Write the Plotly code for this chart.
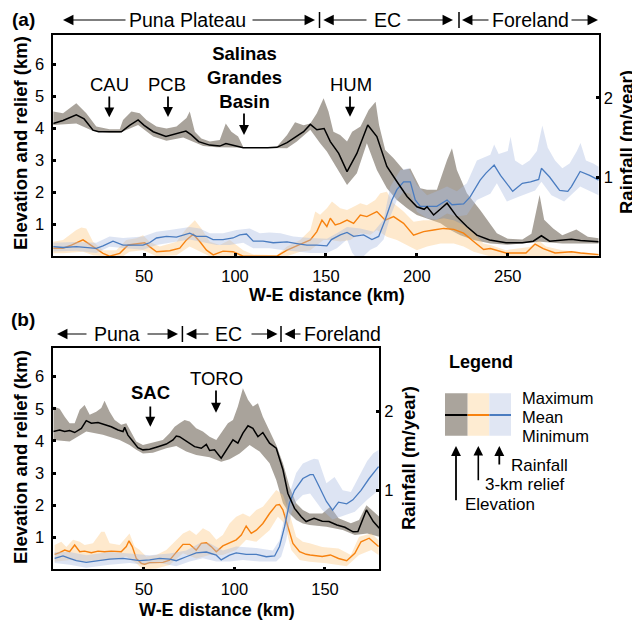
import plotly.graph_objects as go

# The page body has an 8px margin, so the figure is drawn 8px in from the window corner.
OFF = 8
FW, FH = 632, 614
FONT = "Liberation Sans, Arial, Helvetica, sans-serif"

# ---------------- Panel (a) data: W-E distance (km) ----------------
a_elev_mean_x = [0, 5.4, 12.7, 17, 21.9, 25, 30, 37.5, 42, 46.7, 50, 55, 62, 68, 73, 76, 80, 86, 91.6, 95,
                 100.8, 104.5, 118, 123, 128.6, 134, 137.7, 141.4, 145, 149, 152.4, 157, 161.6, 167, 173, 178,
                 183.5, 189, 194.6, 200, 204, 205.6, 209.2, 213, 216.6, 222, 227.5, 233, 240, 249, 258, 264,
                 268.5, 273, 285, 290, 300]
a_elev_mean = [4.16, 4.25, 4.43, 4.3, 3.95, 3.9, 3.9, 3.9, 4.1, 4.27, 4.1, 3.9, 3.75, 3.85, 3.92, 3.8, 3.59, 3.48,
               3.45, 3.53, 3.45, 3.40, 3.40, 3.41, 3.56, 3.77, 3.9, 4.13, 3.96, 4.0, 3.59, 3.22, 2.65, 3.22, 4.11,
               3.75, 2.81, 2.34, 1.87, 1.55, 1.47, 1.55, 1.29, 1.48, 1.66, 1.24, 0.93, 0.66, 0.51, 0.42, 0.42, 0.47,
               0.64, 0.47, 0.53, 0.49, 0.45]

a_elev_max_x = [0, 5.4, 12.7, 18.2, 23.7, 31, 36.6, 38.4, 43, 47.6, 51.3, 56.8, 62.3, 67.8, 73.3, 75.1, 77.9, 81.5,
                86.1, 91.6, 94.9, 98, 101.7, 104.5, 118, 123, 128.6, 133, 137.7, 141.4, 145, 148.7, 151.4, 154.1,
                157.8, 161.6, 164.4, 169, 173.5, 177.3, 179.2, 182.6, 187.2, 192.7, 196.4, 201.9, 205.6, 211, 216.6,
                219.3, 222, 227.5, 234.8, 240.4, 244, 250, 258, 263, 265, 267.5, 270, 275, 280, 287.7, 294, 300]
a_elev_max = [4.53, 4.48, 4.79, 4.48, 4.06, 3.98, 3.98, 4.27, 4.53, 4.48, 4.27, 4.06, 4.0, 4.06, 4.33, 4.53, 3.9,
              3.69, 3.59, 3.64, 4.16, 3.9, 3.75, 3.42, 3.42, 3.43, 3.8, 4.2, 4.1, 4.16, 4.48, 4.95, 4.53, 3.9, 3.8,
              3.59, 3.9, 4.06, 4.58, 4.84, 4.11, 3.33, 3.07, 2.7, 2.75, 2.13, 2.08, 2.08, 3.01, 3.38, 2.7, 1.97,
              1.45, 1.0, 0.72, 0.55, 0.52, 0.7, 1.24, 1.92, 1.14, 0.87, 0.66, 0.84, 0.61, 0.56]

a_elev_min_x = [0, 12.7, 21.9, 31, 36.6, 46.7, 55, 62.3, 71.5, 77, 82.5, 89.8, 97.1, 104.5, 118, 128.6, 134, 141.4,
                146.8, 150.5, 155.7, 161.6, 167, 172.5, 178, 183.5, 189, 194.6, 200, 205.6, 213, 218.4, 223.9,
                231.2, 240.4, 250, 268, 280, 300]
a_elev_min = [4.11, 4.16, 3.92, 3.87, 3.87, 4.11, 3.75, 3.62, 3.72, 3.59, 3.45, 3.41, 3.41, 3.39, 3.39, 3.38, 3.59,
              3.96, 3.54, 3.28, 2.81, 2.23, 2.6, 3.54, 2.7, 2.13, 1.76, 1.5, 1.29, 1.19, 1.03, 0.82, 0.66, 0.51,
              0.40, 0.36, 0.45, 0.40, 0.40]

a_relief_mean_x = [0, 5.4, 10, 16.4, 21.9, 27.4, 31, 36.6, 41.2, 46.7, 50.3, 53, 56.8, 64.1, 69.6, 73.3, 77, 80.6,
                   84.3, 88, 93.4, 98.9, 104.5, 123, 128.6, 135.8, 141.4, 145, 147.8, 150.5, 152.4, 155.1, 157.9,
                   161.6, 165.2, 168.9, 172.5, 178, 182.6, 187.2, 192.7, 198.2, 203.7, 209.2, 214.8, 220.3, 225.7,
                   231.2, 236.7, 240.4, 249, 260, 265, 269.5, 276, 285, 290, 300]
a_relief_mean = [0.25, 0.25, 0.35, 0.51, 0.3, 0.09, 0.0, 0.09, 0.35, 0.4, 0.42, 0.3, 0.14, 0.17, 0.25, 0.51, 0.69,
                 0.46, 0.19, 0.04, 0.16, 0.14, 0.0, 0.0, 0.19, 0.37, 0.51, 0.77, 1.13, 0.93, 1.19, 0.98, 1.03, 1.13,
                 1.03, 1.29, 1.24, 1.40, 1.13, 1.24, 1.03, 0.66, 0.77, 0.82, 0.87, 0.84, 0.72, 0.46, 0.21, 0.24, 0.1,
                 0.1, 0.38, 0.24, 0.1, 0.14, 0.1, 0.05]

a_relief_max_x = [0, 5.4, 12.7, 15.5, 18.2, 21.9, 27.4, 34.7, 40.2, 45.8, 49.4, 53, 58.6, 67.8, 73.3, 77.9, 81.5,
                  86.1, 91.6, 97.1, 104.5, 110, 123, 128.6, 135.8, 141.4, 144.1, 146.8, 150.5, 153.3, 157.9, 161.6,
                  165.2, 168.9, 172.5, 177.1, 179.9, 183.5, 187.2, 192.7, 198.2, 203.7, 209.2, 214.8, 220.3, 225.7,
                  231.2, 236.7, 240.4, 249, 262, 267, 271, 280, 300]
a_relief_max = [0.45, 0.51, 0.82, 0.9, 0.87, 0.45, 0.19, 0.19, 0.51, 0.56, 0.66, 0.45, 0.3, 0.45, 0.87, 1.13, 0.87,
                0.45, 0.35, 0.51, 0.19, 0.05, 0.03, 0.3, 0.51, 0.82, 1.4, 1.3, 1.5, 1.71, 1.5, 1.45, 1.55, 1.66, 1.6,
                1.76, 1.97, 2.02, 1.66, 1.4, 1.08, 1.13, 1.13, 1.19, 1.13, 0.98, 0.72, 0.4, 0.35, 0.19, 0.29, 0.5,
                0.3, 0.19, 0.08]

a_relief_min_x = [0, 5.4, 16.4, 21.9, 27.4, 38.4, 42, 49.4, 56.8, 67.8, 75, 80.6, 86, 128.6, 135.8, 141.4, 145,
                  148.7, 152.4, 157.9, 163.4, 168.9, 174.4, 178, 183.5, 189, 194.6, 200, 205.6, 213, 220.3, 225.7,
                  231.2, 240, 300]
a_relief_min = [0.09, 0.09, 0.14, 0.03, 0, 0, 0.14, 0.19, 0, 0.03, 0.3, 0.14, 0, 0, 0.14, 0.19, 0.35, 0.51, 0.51,
                0.46, 0.51, 0.72, 0.67, 0.82, 0.61, 0.51, 0.35, 0.19, 0.3, 0.4, 0.4, 0.3, 0.14, 0, 0]

# rainfall (m/year)
a_rain_mean_x = [0, 5.4, 12.7, 18.2, 23.7, 27.4, 32.9, 38.4, 43.9, 49.4, 53, 56.8, 62.3, 67.8, 75.1, 78.8, 84.3,
                 87.9, 93.4, 98.9, 102.6, 106.3, 110, 115.4, 121, 128.6, 134, 139.5, 145, 150.5, 153, 157.9, 161.6,
                 165.2, 170.7, 175.3, 179, 182.6, 186.3, 189, 192.7, 196.4, 199.1, 201.9, 207.4, 211, 216.6, 219.3,
                 225.7, 229.3, 234.8, 238, 242.5, 246, 252.7, 258, 262.5, 267, 268.5, 273, 278.5, 283, 285, 289.8,
                 295, 300]
a_rain_mean = [0.12, 0.11, 0.12, 0.11, 0.10, 0.13, 0.19, 0.14, 0.14, 0.14, 0.17, 0.23, 0.25, 0.24, 0.29, 0.25, 0.25,
               0.21, 0.21, 0.23, 0.27, 0.28, 0.19, 0.19, 0.17, 0.18, 0.16, 0.14, 0.14, 0.13, 0.21, 0.27, 0.30, 0.25,
               0.27, 0.21, 0.25, 0.46, 0.71, 0.84, 0.94, 0.94, 0.71, 0.63, 0.63, 0.63, 0.71, 0.65, 0.66, 0.75, 0.96,
               1.05, 1.15, 1.02, 0.82, 0.92, 0.94, 0.97, 1.11, 1.00, 0.83, 0.82, 0.88, 1.07, 1.02, 0.96]

a_rain_max_x = [0, 12.7, 23.7, 31, 38.4, 49.4, 56.8, 64.1, 75.1, 80.6, 86.1, 93.4, 100.8, 108.1, 113.6, 119, 125,
                132, 141.4, 150.5, 156, 161.6, 168.9, 176.2, 181.7, 185.4, 190.9, 195.5, 200, 205.6, 211, 216.6, 222,
                227.5, 233, 240.4, 242.5, 245, 250, 251.5, 254, 258, 262, 266, 269, 272, 276, 280, 284, 288, 290,
                293, 297, 300]
a_rain_max = [0.17, 0.18, 0.17, 0.25, 0.23, 0.25, 0.31, 0.33, 0.37, 0.35, 0.29, 0.29, 0.33, 0.35, 0.29, 0.30, 0.29,
              0.25, 0.23, 0.22, 0.29, 0.37, 0.35, 0.31, 0.46, 0.88, 1.09, 1.11, 0.90, 0.77, 0.82, 0.88, 0.82, 0.92,
              1.21, 1.28, 1.41, 1.29, 1.33, 1.51, 1.21, 1.15, 1.21, 1.33, 1.65, 1.37, 1.21, 1.11, 1.17, 1.33, 1.43,
              1.21, 1.17, 1.13]

a_rain_min_x = [0, 12.7, 23.7, 31, 40, 49.4, 56.8, 64.1, 75.1, 82.5, 89.8, 97, 104.5, 110, 119, 125, 132, 141.4,
                150.5, 156, 161.6, 164.5, 166, 170.7, 174.4, 178, 181.7, 185.4, 189, 192.7, 196.4, 200, 205.6, 211,
                216.6, 222, 227.5, 233, 240.4, 244, 249.5, 256, 265, 268.5, 274, 281, 289.8, 300]
a_rain_min = [0.06, 0.07, 0.04, 0.12, 0.10, 0.08, 0.14, 0.17, 0.21, 0.17, 0.14, 0.14, 0.17, 0.10, 0.10, 0.08, 0.06,
              0.04, 0.04, 0.10, 0.21, 0.04, 0, 0, 0.08, 0.12, 0.21, 0.50, 0.71, 0.81, 0.79, 0.56, 0.48, 0.46, 0.54,
              0.50, 0.52, 0.71, 0.79, 0.92, 0.69, 0.75, 0.83, 0.94, 0.77, 0.69, 0.88, 0.77]

# ---------------- Panel (b) data ----------------
b_elev_mean_x = [0, 3.5, 6.3, 9, 11.8, 15.5, 18.2, 21, 24.7, 28.3, 32, 35.7, 38.5, 39.4, 41.2, 44, 46.7, 49.5, 53.2,
                 57.8, 62.4, 66.1, 67.9, 69.7, 73.4, 78, 81.7, 84.5, 86.3, 89, 92.7, 95.5, 99.2, 101.9, 104.7, 107.5,
                 110.2, 113, 115.7, 119.4, 123.1, 126.8, 129.5, 133.2, 136.9, 139.6, 144, 148.5, 152.2, 156.6, 161,
                 165.5, 168.2, 172.9, 176.7, 180]
b_elev_mean = [4.29, 4.34, 4.29, 4.32, 4.26, 4.39, 4.63, 4.55, 4.57, 4.5, 4.44, 4.34, 4.29, 4.42, 4.18, 3.98, 3.79,
               3.72, 3.74, 3.82, 3.9, 4.03, 4.15, 4.13, 3.98, 3.82, 3.77, 3.89, 3.70, 3.72, 3.46, 3.72, 4.03, 3.93,
               4.24, 4.47, 4.39, 4.13, 4.26, 3.93, 3.77, 3.1, 2.37, 1.9, 1.64, 1.49, 1.59, 1.5, 1.49, 1.38, 1.31,
               1.17, 1.18, 1.85, 1.49, 1.28]

b_elev_max_x = [0, 3.5, 6.3, 9, 11.8, 14.6, 17.3, 20.1, 23.7, 26.5, 28.3, 31.1, 33.9, 37.5, 40.3, 43.1, 45.8, 49.5,
                53.2, 56.9, 60.5, 64.2, 67, 69.7, 72.5, 75.3, 78.9, 82.6, 86.3, 90, 93.6, 96.4, 99.2, 101.9, 104.7,
                107.5, 110.2, 113, 115.7, 119.4, 123.1, 126.8, 130.4, 134.1, 137.8, 141.5, 148.5, 153, 157.5, 164.3,
                168.8, 172.9, 176.7, 180]
b_elev_max = [5.07, 5.0, 4.75, 4.55, 4.55, 4.97, 5.12, 4.81, 4.91, 5.02, 5.25, 4.91, 4.65, 4.5, 4.55, 4.24, 3.98,
              3.87, 3.93, 3.98, 4.03, 4.24, 4.44, 4.55, 4.65, 4.6, 4.39, 4.29, 4.13, 4.03, 4.34, 4.55, 4.65, 5.07,
              5.64, 5.28, 5.07, 5.17, 4.75, 4.29, 3.87, 3.3, 2.58, 2.06, 1.85, 1.74, 1.74, 1.95, 1.59, 1.44, 1.54,
              2.0, 1.8, 1.64]

b_elev_min_x = [0, 9, 18.2, 27.4, 36.6, 42.1, 45.8, 49.5, 55, 62.4, 67.9, 73.4, 78.9, 86.3, 92.7, 97.3, 102.9, 108.4,
                113.9, 119.4, 123.1, 126.8, 130.4, 134.1, 137.8, 141.5, 150.8, 159.8, 166.5, 173.3, 180]
b_elev_min = [4.03, 3.98, 4.29, 4.19, 4.03, 3.87, 3.72, 3.61, 3.63, 3.77, 3.84, 3.67, 3.56, 3.49, 3.35, 3.43, 3.61,
              3.87, 3.67, 3.3, 2.78, 2.06, 1.74, 1.54, 1.43, 1.38, 1.33, 1.23, 1.07, 1.12, 1.02]

b_relief_mean_x = [0.75, 3.5, 6.3, 9, 11.8, 14.6, 17.3, 21, 24.7, 28.3, 32, 34.8, 37.5, 40.3, 41.8, 43.6, 45.8, 48.6,
                   50.4, 53.2, 56.9, 60.5, 64.2, 67.9, 71.6, 75.3, 78.9, 81.7, 84.5, 87.2, 90, 93.6, 97.3, 101, 103.8,
                   106.5, 109.3, 112.1, 115.7, 119.4, 123.1, 124.9, 126.8, 129.5, 132.3, 136, 139.6, 141.8, 148.5,
                   153, 157.5, 162, 166.5, 169.9, 174.4, 179.6]
b_relief_mean = [0.47, 0.52, 0.6, 0.55, 0.76, 0.55, 0.57, 0.52, 0.57, 0.55, 0.57, 0.55, 0.55, 0.71, 0.89, 0.71, 0.34,
                 0.19, 0.16, 0.21, 0.21, 0.22, 0.29, 0.55, 0.78, 0.78, 0.6, 0.81, 0.83, 0.71, 0.55, 0.73, 0.83, 0.92,
                 1.07, 1.35, 1.12, 1.22, 1.43, 1.74, 2.0, 2.02, 1.85, 1.33, 0.81, 0.55, 0.47, 0.45, 0.4, 0.45, 0.34,
                 0.27, 0.5, 0.86, 0.97, 0.71]

b_relief_max_x = [0.75, 4.4, 7.2, 10.9, 14.6, 17.3, 21.9, 26.5, 28.3, 31.1, 36.6, 42.1, 44.9, 47.7, 51.3, 56.9, 62.4,
                  67.9, 71.6, 75.3, 78.9, 82.6, 86.3, 90, 93.6, 97.3, 101, 104.7, 108.4, 112.1, 115.7, 119.4, 123.1,
                  126.8, 130.4, 134.1, 137.8, 141.5, 148.5, 157.5, 164.3, 168.8, 175.6, 179.6]
b_relief_max = [0.76, 0.86, 0.7, 0.92, 0.86, 0.76, 0.81, 1.17, 1.17, 0.81, 0.76, 1.12, 0.71, 0.6, 0.4, 0.45, 0.6,
                0.92, 1.12, 1.22, 1.07, 1.28, 1.17, 0.92, 1.07, 1.43, 1.64, 1.74, 1.64, 1.85, 1.95, 2.21, 2.47, 2.32,
                1.74, 1.02, 0.86, 0.81, 0.7, 0.65, 0.45, 1.02, 1.12, 0.91]

b_relief_min_x = [0.75, 9, 18.2, 31.1, 40.3, 45.8, 49.5, 56.9, 64.2, 71.6, 78.9, 86.3, 93.6, 101, 106.5, 112.1,
                  119.4, 124, 127.7, 131.4, 136, 141.5, 150.8, 162, 168.8, 175.6, 179.6]
b_relief_min = [0.24, 0.29, 0.24, 0.29, 0.4, 0.19, 0, 0.03, 0.14, 0.5, 0.34, 0.45, 0.45, 0.6, 0.92, 0.86, 1.22, 1.64,
                1.43, 0.6, 0.29, 0.24, 0.19, 0.1, 0.45, 0.6, 0.45]

b_rain_mean_x = [0.75, 5.35, 9, 12.7, 18.2, 23.7, 31.1, 38.5, 42.1, 47.7, 53.2, 58.7, 64.2, 67.9, 73.4, 78.9, 84.5,
                 90, 92.7, 97.3, 101, 106.5, 112.1, 117.6, 122.2, 124.9, 127.7, 130.4, 133.2, 137.8, 141.8, 143.5,
                 146.3, 150.8, 154.2, 157.5, 162, 165.4, 169.9, 174.4, 179.6]
b_rain_mean = [0.14, 0.17, 0.14, 0.11, 0.09, 0.11, 0.13, 0.14, 0.13, 0.11, 0.12, 0.14, 0.13, 0.11, 0.16, 0.21, 0.22,
               0.18, 0.12, 0.18, 0.21, 0.19, 0.19, 0.16, 0.17, 0.29, 0.54, 0.84, 1.00, 1.15, 1.20, 1.20, 1.07, 0.86,
               0.75, 0.85, 0.83, 0.88, 1.00, 1.15, 1.30]

b_rain_max_x = [0.75, 9, 18.2, 31.1, 42.1, 53.2, 64.2, 73.4, 80.8, 86.3, 93.6, 101, 112.1, 121.2, 124.9, 127.7,
                130.4, 134.1, 137.8, 141.8, 144, 146.3, 150.8, 155.3, 159.8, 164.3, 168.8, 173.3, 176.7, 179.6]
b_rain_max = [0.22, 0.22, 0.18, 0.22, 0.20, 0.18, 0.20, 0.24, 0.33, 0.33, 0.24, 0.29, 0.27, 0.24, 0.37, 0.67, 0.96,
              1.22, 1.34, 1.38, 1.40, 1.39, 1.09, 1.17, 1.00, 0.98, 1.17, 1.37, 1.47, 1.51]

b_rain_min_x = [0.75, 9, 18.2, 31.1, 42.1, 49.5, 58.7, 67.9, 75.3, 82.6, 90, 97.3, 104.7, 113.9, 123.1, 125.8,
                128.6, 131.4, 134.1, 137.8, 141.8, 148.5, 154.2, 159.8, 166.5, 173.3, 179.6]
b_rain_min = [0.08, 0.06, 0.02, 0.06, 0.08, 0.06, 0.08, 0.04, 0.10, 0.14, 0.10, 0.10, 0.12, 0.10, 0.10, 0.16, 0.37,
              0.71, 0.86, 0.94, 0.96, 0.75, 0.63, 0.67, 0.73, 0.88, 1.00]

# axis ticks
a_xticks = [50, 100, 150, 200, 250]
b_xticks = [50, 100, 150]
km_ticks = [1, 2, 3, 4, 5, 6]
rain_ticks = [1, 2]

# ---------------- styles ----------------
ELEV_FILL = "rgba(140,132,122,0.75)"
REL_FILL = "rgba(253,200,130,0.40)"
RAIN_FILL = "rgba(170,188,225,0.40)"
ELEV_LINE = "#000000"
REL_LINE = "#f7820f"
RAIN_LINE = "#4a7cc0"


def px(x):
    return (x - OFF) / FW


def py(y):
    return 1 - (y - OFF) / FH


fig = go.Figure()


def band(xh, yh, xl, yl, color, xa, ya):
    fig.add_trace(go.Scatter(x=list(xh) + list(xl)[::-1], y=list(yh) + list(yl)[::-1],
                             fill="toself", fillcolor=color, line=dict(width=0), mode="lines",
                             hoverinfo="skip", showlegend=False, xaxis=xa, yaxis=ya))


def curve(x, y, color, xa, ya, w=1.4):
    fig.add_trace(go.Scatter(x=x, y=y, mode="lines", line=dict(color=color, width=w),
                             hoverinfo="skip", showlegend=False, xaxis=xa, yaxis=ya))


# panel a
band(a_elev_max_x, a_elev_max, a_elev_min_x, a_elev_min, ELEV_FILL, "x", "y")
band(a_relief_max_x, a_relief_max, a_relief_min_x, a_relief_min, REL_FILL, "x", "y")
curve(a_relief_mean_x, a_relief_mean, REL_LINE, "x", "y")
band(a_rain_max_x, a_rain_max, a_rain_min_x, a_rain_min, RAIN_FILL, "x", "y2")
curve(a_rain_mean_x, a_rain_mean, RAIN_LINE, "x", "y2", 1.3)
curve(a_elev_mean_x, a_elev_mean, ELEV_LINE, "x", "y5", 1.5)
# panel b
band(b_elev_max_x, b_elev_max, b_elev_min_x, b_elev_min, ELEV_FILL, "x2", "y3")
band(b_relief_max_x, b_relief_max, b_relief_min_x, b_relief_min, REL_FILL, "x2", "y3")
curve(b_relief_mean_x, b_relief_mean, REL_LINE, "x2", "y3")
band(b_rain_max_x, b_rain_max, b_rain_min_x, b_rain_min, RAIN_FILL, "x2", "y4")
curve(b_rain_mean_x, b_rain_mean, RAIN_LINE, "x2", "y4", 1.3)
curve(b_elev_mean_x, b_elev_mean, ELEV_LINE, "x2", "y6", 1.5)

tickfont = dict(family=FONT, size=16.5, color="black")
common = dict(showgrid=False, zeroline=False, ticks="inside", ticklen=3, tickwidth=3, tickcolor="black",
              tickfont=tickfont, linecolor="black", linewidth=1.6, ticklabelstandoff=4)

ax_a = [px(53.2), px(598.7)]
ay_a = [py(256.2), py(35)]
ax_b = [px(53.3), px(379.3)]
ay_b = [py(569.4), py(347.7)]

fig.update_layout(
    width=FW, height=FH, margin=dict(l=0, r=0, t=0, b=0),
    paper_bgcolor="white", plot_bgcolor="white", showlegend=False,
    xaxis=dict(domain=ax_a, range=[0, 300], anchor="y", tickvals=a_xticks, showline=True, mirror=True, **common),
    yaxis=dict(domain=ay_a, range=[0, 6.93], anchor="x", tickvals=km_ticks, showline=True, mirror=True, **common),
    yaxis2=dict(range=[0, 2.794], overlaying="y", side="right", anchor="x", tickvals=rain_ticks,
                showline=False, **common),
    yaxis5=dict(range=[0, 6.93], overlaying="y", anchor="x", visible=False),
    xaxis2=dict(domain=ax_b, range=[0, 180], anchor="y3", tickvals=b_xticks, showline=True, mirror=True, **common),
    yaxis3=dict(domain=ay_b, range=[0, 6.9], anchor="x2", tickvals=km_ticks, showline=True, mirror=True, **common),
    yaxis4=dict(range=[0, 2.805], overlaying="y3", side="right", anchor="x2", tickvals=rain_ticks,
                showline=False, **common),
    yaxis6=dict(range=[0, 6.9], overlaying="y3", anchor="x2", visible=False),
)

ann = []
shapes = []


def txt(x, y, s, size=18.5, xanchor="center", angle=0):
    ann.append(dict(x=px(x), y=py(y), xref="paper", yref="paper", text=s, showarrow=False,
                    font=dict(family=FONT, size=size, color="black"), xanchor=xanchor, yanchor="middle",
                    textangle=angle))


def arrow(xh, yh, xt, yt, width=1.1, size=1.9):
    ann.append(dict(x=px(xh), y=py(yh), xref="paper", yref="paper", ax=xt - xh, ay=yt - yh,
                    axref="pixel", ayref="pixel", text="", showarrow=True, arrowhead=2, arrowsize=size,
                    arrowwidth=width, arrowcolor="black", standoff=0, startstandoff=0))


def vbar(x, yc, half=8):
    shapes.append(dict(type="line", xref="paper", yref="paper", x0=px(x), x1=px(x),
                       y0=py(yc - half), y1=py(yc + half), line=dict(color="black", width=1.5)))


# panel labels
txt(23, 19, "<b>(a)</b>", 19)
txt(23, 319, "<b>(b)</b>", 19)

# region header a
ya = 20
arrow(63, ya, 127, ya); txt(187.3, ya, "Puna Plateau", 19.5); arrow(315, ya, 251, ya); vbar(319.5, ya)
arrow(323.3, ya, 368, ya); txt(387, ya, "EC", 19.5); arrow(453, ya, 406, ya); vbar(459, ya)
arrow(462, ya, 490, ya); txt(530, ya, "Foreland", 19.5); arrow(598, ya, 570, ya)
# region header b
yb = 334
arrow(57, yb, 88, yb); txt(117, yb, "Puna", 19.5); arrow(178, yb, 146, yb); vbar(182.4, yb)
arrow(186, yb, 210, yb); txt(229, yb, "EC", 19.5); arrow(277.5, yb, 250, yb); vbar(281, yb)
arrow(284.5, yb, 302, yb); txt(342, yb, "Foreland", 19.5)

# axis titles
txt(20, 143, "<b>Elevation and relief (km)</b>", 18.5, angle=-90)
txt(626, 142, "<b>Rainfall (m/year)</b>", 18.5, angle=-90)
txt(326.5, 295, "<b>W-E distance (km)</b>", 18)
txt(20, 457, "<b>Elevation and relief (km)</b>", 18.5, angle=-90)
txt(408, 458, "<b>Rainfall (m/year)</b>", 18.5, angle=-90)
txt(217, 610, "<b>W-E distance (km)</b>", 18)

# feature labels
txt(109.3, 84, "CAU"); arrow(109.3, 117.3, 109.3, 95, 1.8, 1.1)
txt(167.3, 84, "PCB"); arrow(168, 117, 168, 95, 1.8, 1.1)
txt(244, 77.5, "<b>Salinas<br>Grandes<br>Basin</b>"); arrow(244, 135, 244, 112, 1.8, 1.1)
txt(350.7, 84, "HUM"); arrow(350, 116.7, 350, 95, 1.8, 1.1)
txt(150.7, 392.7, "<b>SAC</b>"); arrow(150.3, 426.7, 150.3, 405, 1.8, 1.1)
txt(216, 378.3, "TORO"); arrow(216, 412.7, 216, 389, 1.8, 1.1)

# legend block
txt(446.7, 361.7, "<b>Legend</b>", 18, xanchor="left")
for x0, x1, fc, lc in [(445, 467.7, "#aaa49c", ELEV_LINE), (467.7, 489.3, "#feecd2", REL_LINE),
                       (489.3, 511, "#e0e6f3", RAIN_LINE)]:
    shapes.append(dict(type="rect", xref="paper", yref="paper", x0=px(x0), x1=px(x1),
                       y0=py(435.7), y1=py(393.3), fillcolor=fc, line=dict(width=0)))
    shapes.append(dict(type="line", xref="paper", yref="paper", x0=px(x0), x1=px(x1),
                       y0=py(415), y1=py(415), line=dict(color=lc, width=2)))
txt(520, 398, "Maximum", 16.5, xanchor="left")
txt(520, 416.7, "Mean", 16.5, xanchor="left")
txt(520, 435.5, "Minimum", 16.5, xanchor="left")
arrow(456, 446, 456, 501.7, 1.8, 1.1)
arrow(478.3, 446, 478.3, 481.7, 1.6, 1.2)
arrow(499.3, 446, 499.3, 466, 1.8, 1.1)
txt(463, 504, "Elevation", 17, xanchor="left")
txt(483, 484.8, "3-km relief", 17, xanchor="left")
txt(509, 465.5, "Rainfall", 17, xanchor="left")

fig.update_layout(annotations=ann, shapes=shapes)
fig.write_html("out.html")
